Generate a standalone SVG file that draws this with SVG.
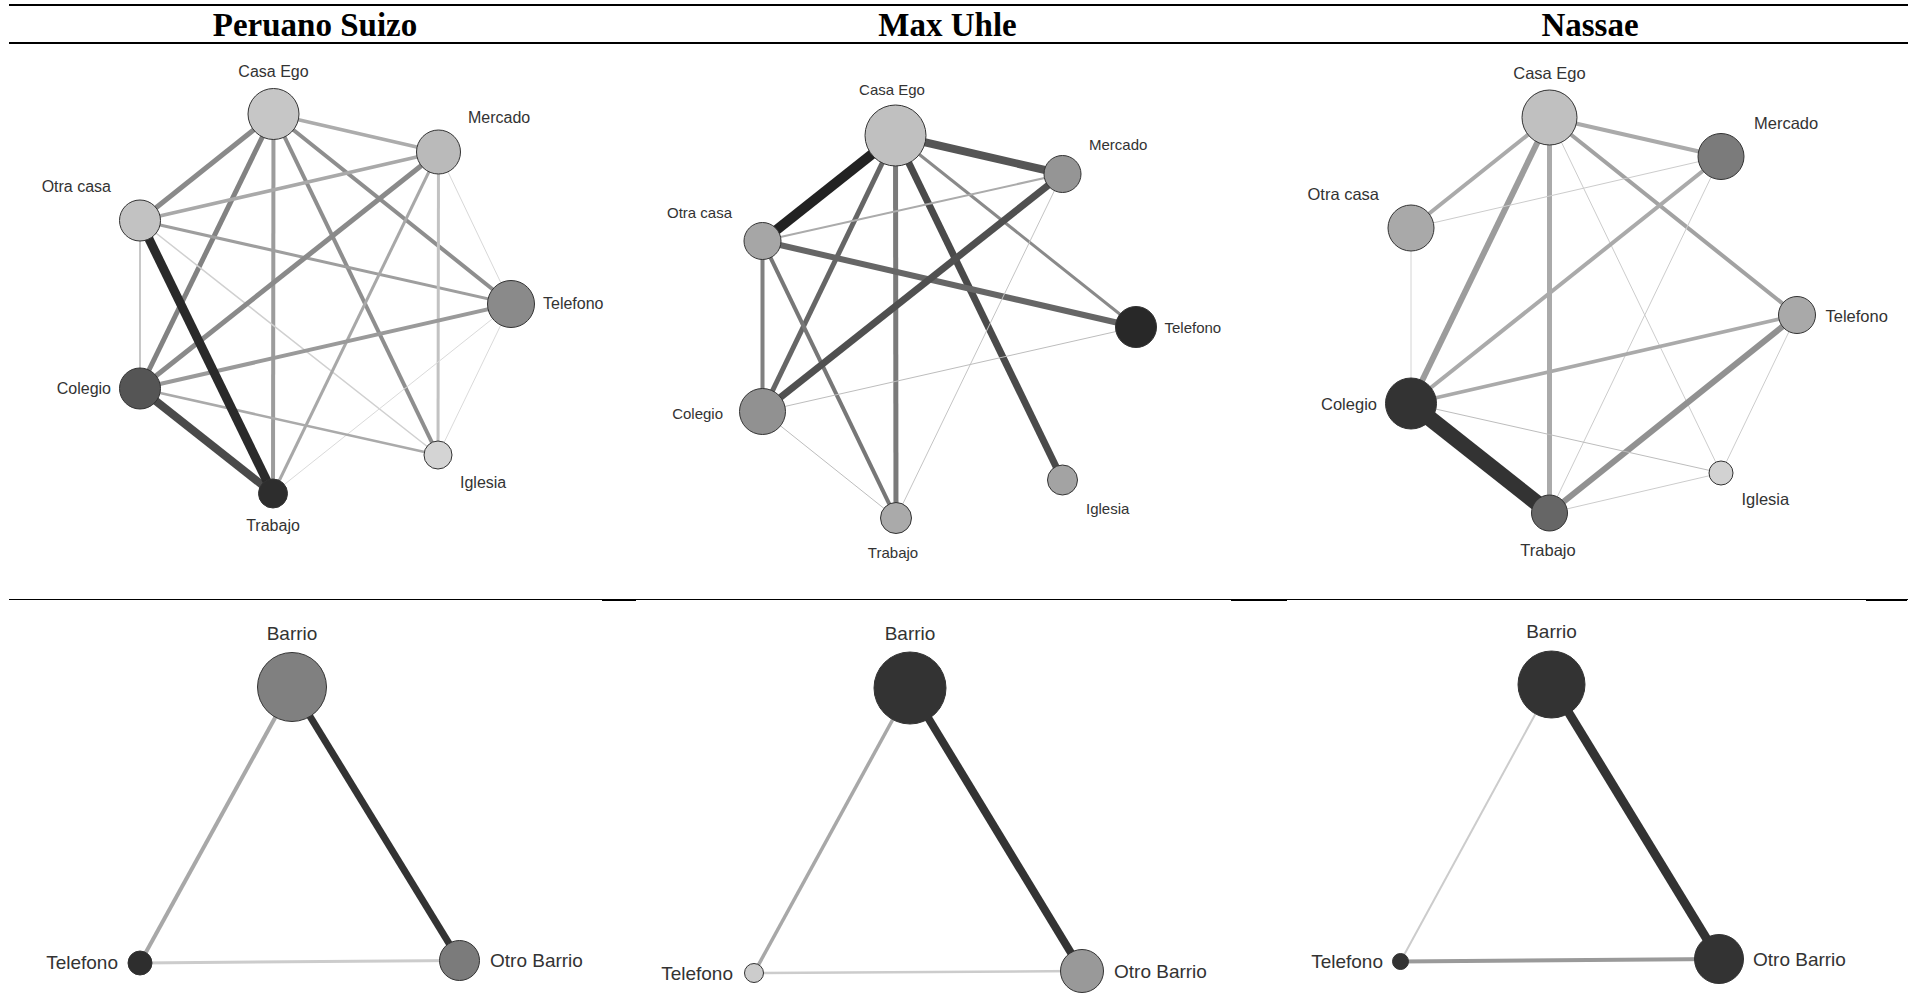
<svg xmlns="http://www.w3.org/2000/svg" width="1908" height="1007" viewBox="0 0 1908 1007">
<style>
.title{font-family:"Liberation Serif","Times New Roman",serif;font-weight:bold;font-size:33px;fill:#000;text-anchor:middle}
.lbl{font-family:"Liberation Sans",Arial,sans-serif;fill:#333}
.s16{font-size:16px}.s15{font-size:15px}.s165{font-size:16.5px}.s19{font-size:19px}
.m{text-anchor:middle}.st{text-anchor:start}.en{text-anchor:end}
.node circle{stroke:#333;stroke-width:1}
.rule{stroke:#000;fill:none}
</style>
<rect width="1908" height="1007" fill="#fff"/>
<g id="rules">
<line class="rule" x1="9" y1="5" x2="1908" y2="5" stroke-width="2"/>
<line class="rule" x1="9" y1="43" x2="1908" y2="43" stroke-width="2"/>
<line class="rule" x1="9" y1="599.5" x2="1908" y2="599.5" stroke-width="1.2"/>
<line class="rule" x1="602" y1="600" x2="636" y2="600" stroke-width="2"/>
<line class="rule" x1="1231" y1="600" x2="1287" y2="600" stroke-width="2"/>
<line class="rule" x1="1866" y1="600" x2="1907" y2="600" stroke-width="2"/>
</g>
<g id="titles">
<text class="title" x="315" y="36">Peruano Suizo</text>
<text class="title" x="947.5" y="36">Max Uhle</text>
<text class="title" x="1590" y="36">Nassae</text>
</g>
<g id="connectors" fill="none">
<!-- Peruano Suizo -->
<line x1="273.5" y1="114" x2="438.5" y2="152" stroke="#acacac" stroke-width="3.5"/>
<line x1="273.5" y1="114" x2="140" y2="220.5" stroke="#8a8a8a" stroke-width="5"/>
<line x1="273.5" y1="114" x2="140" y2="388.5" stroke="#828282" stroke-width="5"/>
<line x1="273.5" y1="114" x2="273" y2="493.5" stroke="#9c9c9c" stroke-width="4"/>
<line x1="273.5" y1="114" x2="438" y2="455" stroke="#8e8e8e" stroke-width="4"/>
<line x1="273.5" y1="114" x2="511" y2="304" stroke="#8e8e8e" stroke-width="4"/>
<line x1="140" y1="220.5" x2="438.5" y2="152" stroke="#a9a9a9" stroke-width="3.5"/>
<line x1="140" y1="220.5" x2="511" y2="304" stroke="#9e9e9e" stroke-width="3"/>
<line x1="140" y1="220.5" x2="140" y2="388.5" stroke="#c8c8c8" stroke-width="2"/>
<line x1="140" y1="220.5" x2="438" y2="455" stroke="#d0d0d0" stroke-width="1.5"/>
<line x1="438.5" y1="152" x2="140" y2="388.5" stroke="#8a8a8a" stroke-width="5"/>
<line x1="438.5" y1="152" x2="273" y2="493.5" stroke="#a8a8a8" stroke-width="3"/>
<line x1="438.5" y1="152" x2="438" y2="455" stroke="#c2c2c2" stroke-width="3"/>
<line x1="438.5" y1="152" x2="511" y2="304" stroke="#d8d8d8" stroke-width="1"/>
<line x1="511" y1="304" x2="140" y2="388.5" stroke="#9a9a9a" stroke-width="4"/>
<line x1="511" y1="304" x2="273" y2="493.5" stroke="#dadada" stroke-width="1"/>
<line x1="511" y1="304" x2="438" y2="455" stroke="#dadada" stroke-width="1"/>
<line x1="140" y1="388.5" x2="438" y2="455" stroke="#aaaaaa" stroke-width="2.5"/>
<line x1="140" y1="388.5" x2="273" y2="493.5" stroke="#4a4a4a" stroke-width="8"/>
<line x1="140" y1="220.5" x2="273" y2="493.5" stroke="#2a2a2a" stroke-width="9"/>
<!-- Max Uhle -->
<line x1="895.5" y1="135.5" x2="1062.5" y2="174" stroke="#555555" stroke-width="8"/>
<line x1="895.5" y1="135.5" x2="762.5" y2="411.5" stroke="#666666" stroke-width="5"/>
<line x1="895.5" y1="135.5" x2="896" y2="518" stroke="#7a7a7a" stroke-width="5"/>
<line x1="895.5" y1="135.5" x2="1062.5" y2="480" stroke="#4a4a4a" stroke-width="7"/>
<line x1="895.5" y1="135.5" x2="1136" y2="327" stroke="#8a8a8a" stroke-width="3"/>
<line x1="762.5" y1="241" x2="1062.5" y2="174" stroke="#ababab" stroke-width="2"/>
<line x1="762.5" y1="241" x2="1136" y2="327" stroke="#666666" stroke-width="6"/>
<line x1="762.5" y1="241" x2="762.5" y2="411.5" stroke="#808080" stroke-width="4"/>
<line x1="762.5" y1="241" x2="896" y2="518" stroke="#777777" stroke-width="4"/>
<line x1="1062.5" y1="174" x2="762.5" y2="411.5" stroke="#505050" stroke-width="7"/>
<line x1="1062.5" y1="174" x2="896" y2="518" stroke="#c4c4c4" stroke-width="1"/>
<line x1="762.5" y1="411.5" x2="1136" y2="327" stroke="#bdbdbd" stroke-width="1"/>
<line x1="762.5" y1="411.5" x2="896" y2="518" stroke="#bdbdbd" stroke-width="1"/>
<line x1="895.5" y1="135.5" x2="762.5" y2="241" stroke="#222222" stroke-width="10"/>
<!-- Nassae -->
<line x1="1549.5" y1="117.5" x2="1721" y2="156.5" stroke="#aaaaaa" stroke-width="4"/>
<line x1="1549.5" y1="117.5" x2="1411" y2="228" stroke="#aaaaaa" stroke-width="4"/>
<line x1="1549.5" y1="117.5" x2="1411" y2="403.5" stroke="#9c9c9c" stroke-width="6"/>
<line x1="1549.5" y1="117.5" x2="1549.5" y2="513" stroke="#aaaaaa" stroke-width="5"/>
<line x1="1549.5" y1="117.5" x2="1797" y2="315" stroke="#a2a2a2" stroke-width="4"/>
<line x1="1549.5" y1="117.5" x2="1721" y2="473" stroke="#cccccc" stroke-width="1"/>
<line x1="1411" y1="228" x2="1721" y2="156.5" stroke="#cccccc" stroke-width="1"/>
<line x1="1411" y1="228" x2="1411" y2="403.5" stroke="#d4d4d4" stroke-width="1"/>
<line x1="1721" y1="156.5" x2="1411" y2="403.5" stroke="#aaaaaa" stroke-width="4"/>
<line x1="1721" y1="156.5" x2="1549.5" y2="513" stroke="#cccccc" stroke-width="1"/>
<line x1="1797" y1="315" x2="1411" y2="403.5" stroke="#aaaaaa" stroke-width="3.5"/>
<line x1="1797" y1="315" x2="1549.5" y2="513" stroke="#919191" stroke-width="6"/>
<line x1="1797" y1="315" x2="1721" y2="473" stroke="#cccccc" stroke-width="1"/>
<line x1="1411" y1="403.5" x2="1721" y2="473" stroke="#bdbdbd" stroke-width="1"/>
<line x1="1721" y1="473" x2="1549.5" y2="513" stroke="#cccccc" stroke-width="1"/>
<line x1="1411" y1="403.5" x2="1549.5" y2="513" stroke="#333333" stroke-width="16"/>
<!-- bottom: Peruano Suizo -->
<line x1="292" y1="687" x2="140" y2="963" stroke="#a8a8a8" stroke-width="4"/>
<line x1="292" y1="687" x2="459.5" y2="960.5" stroke="#333333" stroke-width="7"/>
<line x1="140" y1="963" x2="459.5" y2="960.5" stroke="#cccccc" stroke-width="3"/>
<!-- bottom: Max Uhle -->
<line x1="910" y1="688" x2="754" y2="973" stroke="#a8a8a8" stroke-width="3.5"/>
<line x1="910" y1="688" x2="1082" y2="971" stroke="#333333" stroke-width="8"/>
<line x1="754" y1="973" x2="1082" y2="971" stroke="#cccccc" stroke-width="2.5"/>
<!-- bottom: Nassae -->
<line x1="1551.5" y1="684.5" x2="1400.5" y2="961.5" stroke="#cccccc" stroke-width="2"/>
<line x1="1551.5" y1="684.5" x2="1719" y2="959" stroke="#333333" stroke-width="9"/>
<line x1="1400.5" y1="961.5" x2="1719" y2="959" stroke="#9a9a9a" stroke-width="4"/>
</g>
<!-- Peruano Suizo nodes -->
<g id="ps-casa-ego" class="node"><circle cx="273.5" cy="114" r="25.5" fill="#c6c6c6"/><text class="lbl s16 m" x="273.5" y="77">Casa Ego</text></g>
<g id="ps-mercado" class="node"><circle cx="438.5" cy="152" r="22" fill="#bababa"/><text class="lbl s16 st" x="468" y="123">Mercado</text></g>
<g id="ps-otra-casa" class="node"><circle cx="140" cy="220.5" r="20.5" fill="#c2c2c2"/><text class="lbl s16 en" x="111" y="192">Otra casa</text></g>
<g id="ps-telefono" class="node"><circle cx="511" cy="304" r="23.5" fill="#8a8a8a"/><text class="lbl s16 st" x="543" y="309">Telefono</text></g>
<g id="ps-colegio" class="node"><circle cx="140" cy="388.5" r="20.5" fill="#555555"/><text class="lbl s16 en" x="111" y="394">Colegio</text></g>
<g id="ps-iglesia" class="node"><circle cx="438" cy="455" r="14" fill="#d4d4d4"/><text class="lbl s16 st" x="460" y="488">Iglesia</text></g>
<g id="ps-trabajo" class="node"><circle cx="273" cy="493.5" r="14.5" fill="#2d2d2d"/><text class="lbl s16 m" x="273" y="531">Trabajo</text></g>
<!-- Max Uhle nodes -->
<g id="mu-casa-ego" class="node"><circle cx="895.5" cy="135.5" r="30.5" fill="#c0c0c0"/><text class="lbl s15 m" x="892" y="95">Casa Ego</text></g>
<g id="mu-mercado" class="node"><circle cx="1062.5" cy="174" r="18.5" fill="#959595"/><text class="lbl s15 st" x="1089" y="150">Mercado</text></g>
<g id="mu-otra-casa" class="node"><circle cx="762.5" cy="241" r="18.5" fill="#a6a6a6"/><text class="lbl s15 en" x="732" y="218">Otra casa</text></g>
<g id="mu-telefono" class="node"><circle cx="1136" cy="327" r="20.5" fill="#282828"/><text class="lbl s15 st" x="1164.5" y="333">Telefono</text></g>
<g id="mu-colegio" class="node"><circle cx="762.5" cy="411.5" r="23" fill="#919191"/><text class="lbl s15 en" x="723" y="419">Colegio</text></g>
<g id="mu-iglesia" class="node"><circle cx="1062.5" cy="480" r="15" fill="#a3a3a3"/><text class="lbl s15 st" x="1086" y="514">Iglesia</text></g>
<g id="mu-trabajo" class="node"><circle cx="896" cy="518" r="15.5" fill="#aaaaaa"/><text class="lbl s15 m" x="893" y="558">Trabajo</text></g>
<!-- Nassae nodes -->
<g id="na-casa-ego" class="node"><circle cx="1549.5" cy="117.5" r="27.5" fill="#c0c0c0"/><text class="lbl s165 m" x="1549.5" y="79">Casa Ego</text></g>
<g id="na-mercado" class="node"><circle cx="1721" cy="156.5" r="23" fill="#7b7b7b"/><text class="lbl s165 st" x="1754" y="128.5">Mercado</text></g>
<g id="na-otra-casa" class="node"><circle cx="1411" cy="228" r="23" fill="#a9a9a9"/><text class="lbl s165 en" x="1379" y="200">Otra casa</text></g>
<g id="na-telefono" class="node"><circle cx="1797" cy="315" r="18.5" fill="#a9a9a9"/><text class="lbl s165 st" x="1825.5" y="322">Telefono</text></g>
<g id="na-colegio" class="node"><circle cx="1411" cy="403.5" r="25.5" fill="#333333"/><text class="lbl s165 en" x="1377" y="410">Colegio</text></g>
<g id="na-iglesia" class="node"><circle cx="1721" cy="473" r="12" fill="#d2d2d2"/><text class="lbl s165 st" x="1741.5" y="505">Iglesia</text></g>
<g id="na-trabajo" class="node"><circle cx="1549.5" cy="513" r="18" fill="#666666"/><text class="lbl s165 m" x="1548" y="556">Trabajo</text></g>
<!-- bottom nodes -->
<g id="ps-barrio" class="node"><circle cx="292" cy="687" r="34.5" fill="#808080"/><text class="lbl s19 m" x="292" y="640">Barrio</text></g>
<g id="ps-b-telefono" class="node"><circle cx="140" cy="963" r="12" fill="#2e2e2e"/><text class="lbl s19 en" x="118" y="969">Telefono</text></g>
<g id="ps-otro-barrio" class="node"><circle cx="459.5" cy="960.5" r="20" fill="#7b7b7b"/><text class="lbl s19 st" x="490" y="967">Otro Barrio</text></g>
<g id="mu-barrio" class="node"><circle cx="910" cy="688" r="36" fill="#333333"/><text class="lbl s19 m" x="910" y="640">Barrio</text></g>
<g id="mu-b-telefono" class="node"><circle cx="754" cy="973" r="9.5" fill="#cccccc"/><text class="lbl s19 en" x="733" y="980">Telefono</text></g>
<g id="mu-otro-barrio" class="node"><circle cx="1082" cy="971" r="21.5" fill="#999999"/><text class="lbl s19 st" x="1114" y="978">Otro Barrio</text></g>
<g id="na-barrio" class="node"><circle cx="1551.5" cy="684.5" r="33.5" fill="#333333"/><text class="lbl s19 m" x="1551.5" y="638">Barrio</text></g>
<g id="na-b-telefono" class="node"><circle cx="1400.5" cy="961.5" r="8" fill="#333333"/><text class="lbl s19 en" x="1383" y="968">Telefono</text></g>
<g id="na-otro-barrio" class="node"><circle cx="1719" cy="959" r="24.5" fill="#333333"/><text class="lbl s19 st" x="1753" y="966">Otro Barrio</text></g>
</svg>
